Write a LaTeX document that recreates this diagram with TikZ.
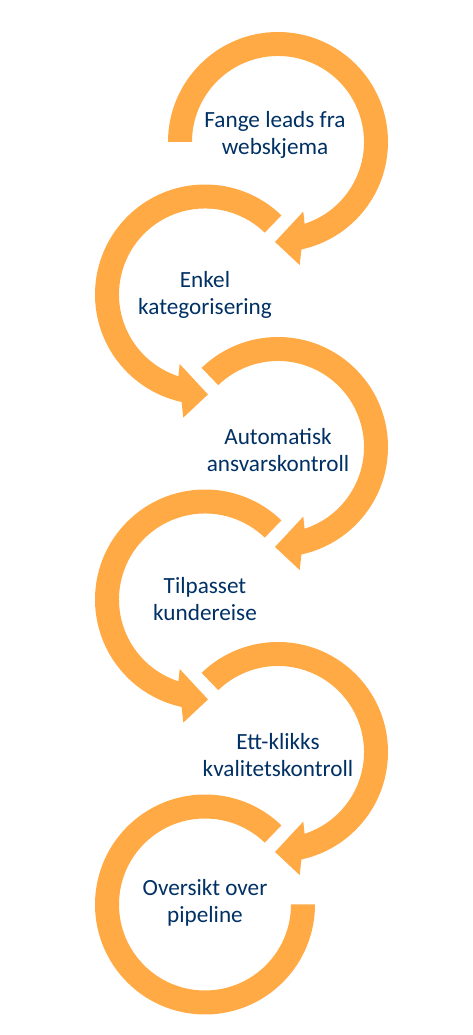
\documentclass[tikz,border=0pt]{standalone}
\usepackage{fontspec}
\setmainfont{Carlito}
\usetikzlibrary{positioning}
\definecolor{loopfill}{RGB}{255,170,69}
\definecolor{loopink}{RGB}{0,48,100}

\begin{document}
\begin{tikzpicture}[x=0.02cm,y=0.02cm,
  every node/.style={font=\fontsize{13.2}{15.4}\selectfont,text=loopink,align=center},
  loop/.style={fill=loopfill}]
  \useasboundingbox (0,0) rectangle (473,1035);
  \coordinate (c1) at (278,893);
  \coordinate (c2) at (205,740.5);
  \coordinate (c3) at (278,588);
  \coordinate (c4) at (205,435.5);
  \coordinate (c5) at (278,283);
  \coordinate (c6) at (205,130.5);
  % step 1: right loop, tail at the left
  \begin{scope}[shift={(c1)}]
  \fill[loop] (180:110) arc[start angle=180,end angle=-77.7,radius=110] -- (-80:125) -- (-91.7:100)
    -- (-70:74) -- (-72:86) arc[start angle=-72,end angle=180,radius=86] -- cycle;
  \node (t1) at (-3,7) {Fange leads fra\\webskjema};
  \end{scope}
  % step 2: left loop
  \begin{scope}[shift={(c2)}]
  \fill[loop] (46:110) arc[start angle=46,end angle=257.7,radius=110] -- (260:125) -- (271.7:100)
    -- (250:74) -- (252:86) arc[start angle=252,end angle=46,radius=86] -- cycle;
  \node (t2) at (0,0) {Enkel\\kategorisering};
  \end{scope}
  % step 3: right loop
  \begin{scope}[shift={(c3)}]
  \fill[loop] (134:110) arc[start angle=134,end angle=-77.7,radius=110] -- (-80:125) -- (-91.7:100)
    -- (-70:74) -- (-72:86) arc[start angle=-72,end angle=134,radius=86] -- cycle;
  \node (t3) at (0,-3) {Automatisk\\ansvarskontroll};
  \end{scope}
  % step 4: left loop
  \begin{scope}[shift={(c4)}]
  \fill[loop] (46:110) arc[start angle=46,end angle=257.7,radius=110] -- (260:125) -- (271.7:100)
    -- (250:74) -- (252:86) arc[start angle=252,end angle=46,radius=86] -- cycle;
  \node (t4) at (0,0) {Tilpasset\\kundereise};
  \end{scope}
  % step 5: right loop
  \begin{scope}[shift={(c5)}]
  \fill[loop] (134:110) arc[start angle=134,end angle=-77.7,radius=110] -- (-80:125) -- (-91.7:100)
    -- (-70:74) -- (-72:86) arc[start angle=-72,end angle=134,radius=86] -- cycle;
  \node (t5) at (0,-3) {Ett-klikks\\kvalitetskontroll};
  \end{scope}
  % step 6: last loop, no head
  \begin{scope}[shift={(c6)}]
  \fill[loop] (46:110) arc[start angle=46,end angle=360,radius=110] -- (0:86)
    arc[start angle=360,end angle=46,radius=86] -- cycle;
  \node (t6) at (0,2) {Oversikt over\\pipeline};
  \end{scope}
\end{tikzpicture}
\end{document}
